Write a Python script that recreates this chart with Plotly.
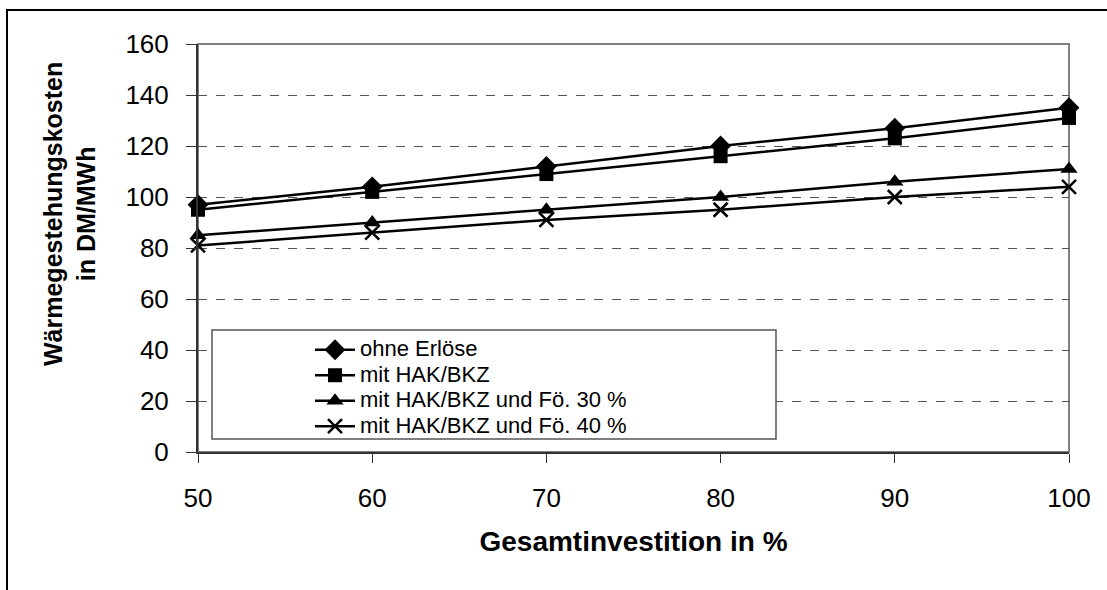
import plotly.graph_objects as go

investition = [50, 60, 70, 80, 90, 100]
ohne_erloese = [97, 104, 112, 120, 127, 135]
mit_hak_bkz = [95, 102, 109, 116, 123, 131]
mit_foe_30 = [85, 90, 95, 100, 106, 111]
mit_foe_40 = [81, 86, 91, 95, 100, 104]

series_names = ["ohne Erlöse", "mit HAK/BKZ", "mit HAK/BKZ und Fö. 30 %", "mit HAK/BKZ und Fö. 40 %"]
series_values = [ohne_erloese, mit_hak_bkz, mit_foe_30, mit_foe_40]
symbols = ["diamond", "square", "triangle-up", "x-thin"]
sizes = [16, 14, 15, 14]

y_ticks = [0, 20, 40, 60, 80, 100, 120, 140, 160]
x_ticks = [50, 60, 70, 80, 90, 100]

FONT = "Liberation Sans, Arial, sans-serif"

W, H = 1107, 590
L, R, T, B = 198, 38, 44, 138
PW, PH = W - L - R, H - T - B


def px(x):
    return (x - L) / PW


def py(y):
    return (H - B - y) / PH


fig = go.Figure()
for name, vals, sym, sz in zip(series_names, series_values, symbols, sizes):
    marker = dict(symbol=sym, size=sz, color="black")
    if sym == "x-thin":
        marker["line"] = dict(color="black", width=2.5)
    fig.add_trace(go.Scatter(
        x=investition, y=vals,
        name='<span style="font-size:22px">' + name + '</span>',
        mode="lines+markers",
        line=dict(color="black", width=2.5), marker=marker,
        cliponaxis=False,
    ))

fig.update_layout(
    width=W, height=H,
    margin=dict(l=L, r=R, t=T, b=B, autoexpand=False),
    paper_bgcolor="white", plot_bgcolor="white",
    font=dict(family=FONT, color="black", size=26),
    showlegend=True,
    legend=dict(
        x=px(310), y=py(332), xanchor="left", yanchor="top",
        bgcolor="rgba(0,0,0,0)", borderwidth=0,
        font=dict(family=FONT, size=17.3, color="black"),
        tracegroupgap=0, itemwidth=40,
    ),
    xaxis=dict(
        range=[50, 100], tickvals=x_ticks, ticktext=[str(v) for v in x_ticks],
        showgrid=False, zeroline=False,
        showline=True, linecolor="#333333", linewidth=2,
        ticks="outside", ticklen=9, tickcolor="#333333", tickwidth=1,
        ticklabelstandoff=13,
        tickfont=dict(family=FONT, size=26, color="black"),
        title=dict(text="<b>Gesamtinvestition in %</b>", standoff=19,
                   font=dict(family=FONT, size=28, color="black")),
        automargin=False,
    ),
    yaxis=dict(
        range=[0, 160], tickvals=y_ticks, ticktext=[str(v) for v in y_ticks],
        showgrid=True, gridcolor="#555555", gridwidth=1, griddash="dash",
        zeroline=False,
        showline=True, linecolor="#333333", linewidth=2,
        ticks="outside", ticklen=10, tickcolor="#333333", tickwidth=1,
        ticklabelstandoff=12,
        tickfont=dict(family=FONT, size=26, color="black"),
        automargin=False,
    ),
    shapes=[
        # outer chart frame
        dict(type="rect", xref="paper", yref="paper",
             x0=px(7), x1=px(1130), y0=py(620), y1=py(10),
             line=dict(color="black", width=2), fillcolor="rgba(0,0,0,0)", layer="below"),
        # plot area border
        dict(type="rect", xref="paper", yref="paper", x0=0, x1=1, y0=0, y1=1,
             line=dict(color="#808080", width=2), fillcolor="rgba(0,0,0,0)", layer="below"),
        # legend box
        dict(type="rect", xref="paper", yref="paper",
             x0=px(212), x1=px(776), y0=py(439), y1=py(330),
             line=dict(color="#555555", width=1.5), fillcolor="white", layer="above"),
    ],
    annotations=[
        dict(text="<b>Wärmegestehungskosten<br>in DM/MWh</b>", textangle=-90,
             xref="paper", yref="paper", x=px(70), y=py(214),
             xanchor="center", yanchor="middle", showarrow=False,
             font=dict(family=FONT, size=25, color="black")),
    ],
)

fig.write_html("out.html")
